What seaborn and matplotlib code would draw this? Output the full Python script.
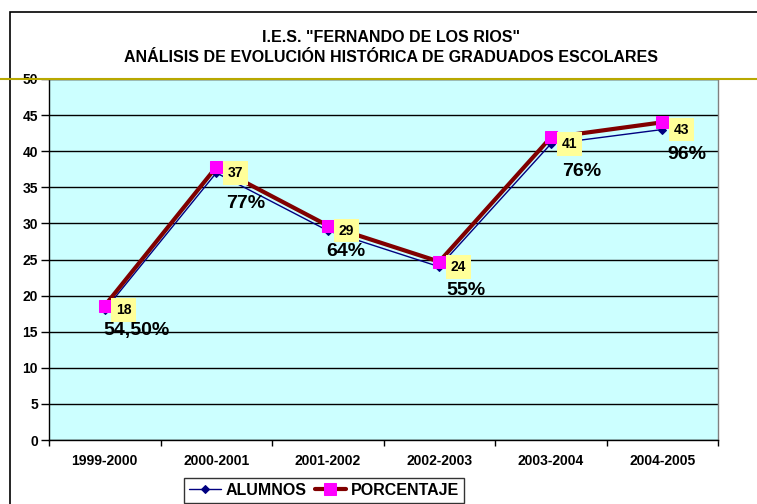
import pandas as pd
import matplotlib.pyplot as plt
import seaborn as sns
from matplotlib.lines import Line2D
from matplotlib.patches import Rectangle

# Chart data
cursos = ['1999-2000', '2000-2001', '2001-2002', '2002-2003', '2003-2004', '2004-2005']
alumnos = [18, 37, 29, 24, 41, 43]
porcentaje = [18.6, 37.8, 29.7, 24.7, 41.9, 44.0]
etiquetas_pct = ['54,50%', '77%', '64%', '55%', '76%', '96%']

# label offsets in points (manually placed in original)
pct_offsets = [(23, -15), (21, -22), (13, -15), (19, -17), (22, -20), (18, -18)]

sns.set_theme(style='white')
plt.rcParams['font.family'] = ['Liberation Sans', 'DejaVu Sans']
plt.rcParams['font.weight'] = 'bold'
plt.rcParams['text.color'] = 'black'
plt.rcParams['xtick.color'] = 'black'
plt.rcParams['ytick.color'] = 'black'

df = pd.DataFrame({'curso': cursos, 'ALUMNOS': alumnos, 'PORCENTAJE': porcentaje})

fig = plt.figure(figsize=(7.57, 5.04), dpi=100)
W, H = 757, 504

# outer chart border (only top/left visible)
fig.add_artist(Rectangle((10 / W, -0.1), 1.2, 1.1 - 12 / H, transform=fig.transFigure,
                         fill=False, ec='black', lw=1.2))

ax = fig.add_axes([49 / W, 1 - 440 / H, (718 - 49) / W, (440 - 79) / H])
ax.set_facecolor('#CCFFFF')

sns.lineplot(data=df, x='curso', y='ALUMNOS', ax=ax, color='#000080', lw=1,
             marker='D', markersize=4, markeredgecolor='#000080', label='ALUMNOS', zorder=3)
sns.lineplot(data=df, x='curso', y='PORCENTAJE', ax=ax, color='#800000', lw=3,
             marker='s', markersize=9, markerfacecolor='#FF00FF', markeredgecolor='#FF00FF',
             label='PORCENTAJE', zorder=4)

ax.set_ylim(0, 50)
ax.set_xlim(-0.5, len(cursos) - 0.5)
ax.set_yticks(range(0, 51, 5))
ax.yaxis.grid(True, color='black', lw=1)
ax.set_axisbelow(True)
ax.set_xlabel('')
ax.set_ylabel('')

# ticks between categories
ax.set_xticks([i - 0.5 for i in range(len(cursos) + 1)], minor=False)
ax.set_xticklabels([])
ax.set_xticks(range(len(cursos)), minor=True)
ax.set_xticklabels(cursos, minor=True, fontsize=10, fontweight='bold')
ax.tick_params(axis='x', which='major', direction='out', length=4, width=1, color='black', bottom=True)
ax.tick_params(axis='x', which='minor', length=0, pad=10)
ax.tick_params(axis='y', direction='out', length=6, width=1, color='black', left=True,
               labelsize=10, pad=2)
for lab in ax.get_yticklabels():
    lab.set_fontweight('bold')

for side in ['left', 'bottom']:
    ax.spines[side].set_color('black')
    ax.spines[side].set_linewidth(1)
for side in ['top', 'right']:
    ax.spines[side].set_color('#808080')
    ax.spines[side].set_linewidth(1)

# data labels
for i, (a, p) in enumerate(zip(alumnos, etiquetas_pct)):
    ax.annotate(str(a), (i, a), xytext=(8, 0), textcoords='offset points',
                ha='left', va='center', fontsize=10, fontweight='bold', zorder=6,
                bbox=dict(boxstyle='square,pad=0.35', fc='#FFFF99', ec='none'))
    ax.annotate(p, (i, a), xytext=pct_offsets[i], textcoords='offset points',
                ha='center', va='center', fontsize=14, fontweight='bold', zorder=6)

# title
fig.text(391 / W, 1 - 38 / H, 'I.E.S. "FERNANDO DE LOS RIOS"', ha='center', va='center',
         fontsize=11.5, fontweight='bold')
fig.text(391 / W, 1 - 58 / H, 'ANÁLISIS DE EVOLUCIÓN HISTÓRICA DE GRADUADOS ESCOLARES',
         ha='center', va='center', fontsize=11.5, fontweight='bold')

# gold line across the top of the plot
fig.add_artist(Line2D([0, 1], [1 - 79 / H, 1 - 79 / H], transform=fig.transFigure,
                      color='#B8A800', lw=1.5))

ax.legend_.remove()
handles, labels = ax.get_legend_handles_labels()
leg = fig.legend(handles, labels, loc='upper left', bbox_to_anchor=(184 / W, 1 - 478 / H),
                 ncol=2, frameon=True, fancybox=False, edgecolor='black',
                 prop={'weight': 'bold', 'size': 11.5}, handlelength=2.0, columnspacing=0.5,
                 handletextpad=0.3, borderpad=0.3, borderaxespad=0)
leg.get_frame().set_linewidth(1)

fig.savefig('out.png', dpi=100)
